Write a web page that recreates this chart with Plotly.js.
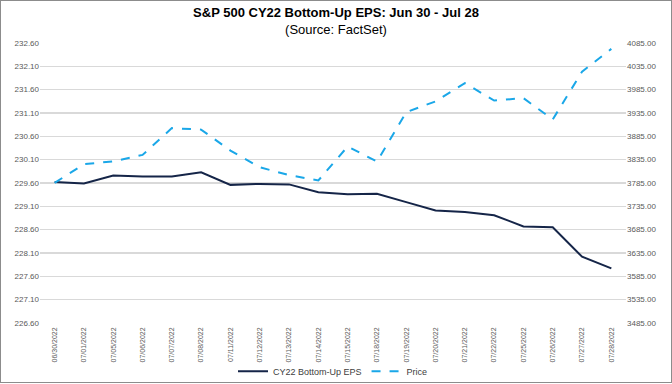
<!DOCTYPE html>
<html>
<head>
<meta charset="utf-8">
<script src="https://cdn.plot.ly/plotly-3.0.1.min.js"></script>
<style>
html, body { margin: 0; padding: 0; background: #fff; }
#frame { width: 672px; height: 383px; box-sizing: border-box; border: 1px solid #8c8c8c; }
#chart { width: 670px; height: 381px; }
</style>
</head>
<body>
<div id="frame"><div id="chart"></div></div>
<script>
const dates = ["06/30/2022","07/01/2022","07/05/2022","07/06/2022","07/07/2022","07/08/2022",
  "07/11/2022","07/12/2022","07/13/2022","07/14/2022","07/15/2022","07/18/2022","07/19/2022",
  "07/20/2022","07/21/2022","07/22/2022","07/25/2022","07/26/2022","07/27/2022","07/28/2022"];
const eps = [229.62, 229.59, 229.76, 229.74, 229.74, 229.83, 229.56, 229.58, 229.57, 229.40,
  229.36, 229.37, 229.19, 229.01, 228.98, 228.91, 228.67, 228.65, 228.02, 227.77];
const price = [3785.4, 3825.3, 3831.4, 3845.1, 3902.6, 3899.4, 3854.4, 3818.8, 3801.8, 3790.4,
  3863.2, 3830.9, 3936.7, 3959.9, 3999.0, 3961.6, 3966.8, 3921.1, 4023.6, 4072.4];
const epsName = "CY22 Bottom-Up EPS";
const priceName = "Price";

const font = "Liberation Sans, Arial, sans-serif";
const traces = [
  {x: dates, y: eps, name: epsName, type: "scatter", mode: "lines",
   line: {color: "#152548", width: 2}, yaxis: "y"},
  {x: dates, y: price, name: priceName, type: "scatter", mode: "lines",
   line: {color: "#1aa7e8", width: 2, dash: "dash"}, yaxis: "y2"}
];
const layout = {
  width: 670, height: 381,
  margin: {l: 39, r: 45, t: 42, b: 59, autoexpand: false},
  paper_bgcolor: "#fff", plot_bgcolor: "#fff",
  font: {family: font, color: "#595959", size: 8},
  title: {
    text: "<b>S&amp;P 500 CY22 Bottom-Up EPS: Jun 30 - Jul 28</b><br>(Source: FactSet)",
    font: {family: font, size: 13, color: "#000"},
    x: 0.5, xanchor: "center", y: 0.958, yanchor: "top", yref: "container"
  },
  xaxis: {
    type: "category", range: [-0.5, dates.length - 0.5], automargin: false,
    tickangle: -90, tickfont: {size: 7, color: "#595959"},
    showgrid: false, zeroline: false, showline: false, ticks: "", ticklabelstandoff: 2
  },
  yaxis: {
    range: [226.6, 232.6], dtick: 0.5, tick0: 226.6, tickformat: ".2f", automargin: false,
    showgrid: true, gridcolor: "#d9d9d9", gridwidth: 1.3,
    zeroline: false, showline: false, ticks: "", tickfont: {size: 8}
  },
  yaxis2: {
    range: [3485, 4085], dtick: 50, tick0: 3485, tickformat: ".2f", automargin: false,
    overlaying: "y", side: "right", showgrid: false,
    zeroline: false, showline: false, ticks: "", tickfont: {size: 8}
  },
  showlegend: true,
  legend: {orientation: "h", x: 0.5, xanchor: "center", y: -0.172, yanchor: "middle",
    font: {size: 9, color: "#404040"}, bgcolor: "rgba(0,0,0,0)"}
};
Plotly.newPlot("chart", traces, layout, {displayModeBar: false, staticPlot: true});
</script>
</body>
</html>
